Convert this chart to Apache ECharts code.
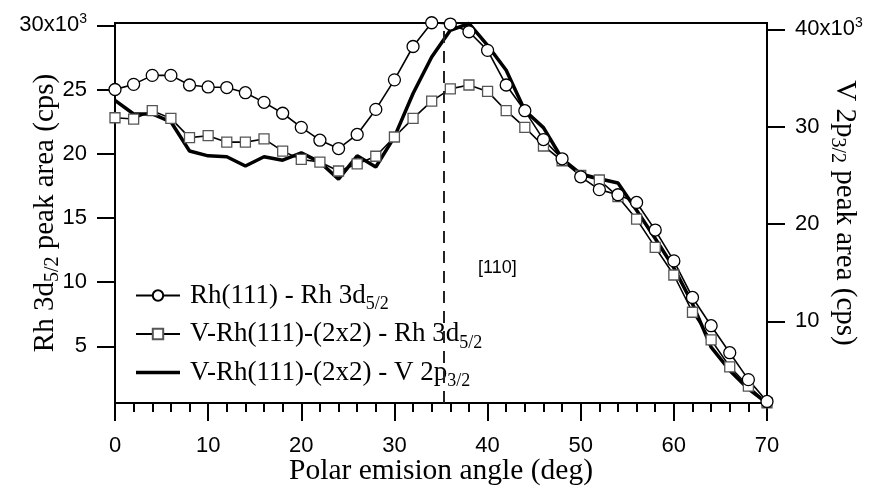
<!DOCTYPE html>
<html><head><meta charset="utf-8">
<script src="https://cdn.jsdelivr.net/npm/echarts@6/dist/echarts.min.js"></script>
<style>html,body{margin:0;padding:0;background:#fff}#c{width:873px;height:486px}</style>
</head><body><div id="c"></div>
<script>
const angles = [0,2,4,6,8,10,12,14,16,18,20,22,24,26,28,30,32,34,36,38,40,42,44,46,48,50,52,54,56,58,60,62,64,66,68,70];
// Rh(111) - Rh 3d5/2 (cps, left axis)
const rh111 = [25000,25400,26100,26100,25350,25200,25150,24750,24000,23150,22050,21050,20400,21500,23450,25750,28350,30200,30100,29500,28050,25350,23350,21100,19600,18200,17200,16800,16200,14050,11650,8800,6600,4500,2400,700];
// V-Rh(111)-(2x2) - Rh 3d5/2 (cps, left axis)
const vrhRh = [22800,22700,23350,22750,21250,21400,20900,20900,21150,20200,19550,19350,18650,19200,19800,21300,22750,24100,25050,25350,24850,23350,22050,20600,19450,18300,17950,16650,14900,12700,10550,7650,5500,3400,1900,600];
// V-Rh(111)-(2x2) - V 2p3/2 (cps, right axis)
const vrhV = [32700,31300,31300,30500,27500,27000,26900,25950,26900,26550,27300,26350,24600,27000,25850,28950,33400,37150,39900,40600,38350,35800,31650,29900,26700,25150,24650,24200,21400,18500,15500,11800,7350,4950,3050,1600];
const leftTicks = [5000,10000,15000,20000,25000,30000];
const rightTicks = [10000,20000,30000,40000];
const markerAngle = 35.3;
const markerText = '[110]';
const names = ['Rh(111) - Rh 3d5/2','V-Rh(111)-(2x2) - Rh 3d5/2','V-Rh(111)-(2x2) - V 2p3/2'];
const legendRich = {
  'Rh(111) - Rh 3d5/2': '{t|Rh(111) - Rh 3d}{s|5/2}',
  'V-Rh(111)-(2x2) - Rh 3d5/2': '{t|V-Rh(111)-(2x2) - Rh 3d}{s|5/2}',
  'V-Rh(111)-(2x2) - V 2p3/2': '{t|V-Rh(111)-(2x2) - V 2p}{s|3/2}'
};
const SANS = '"Liberation Sans", Arial, sans-serif';
const SERIF = '"Liberation Serif", "Times New Roman", serif';

const chart = echarts.init(document.getElementById('c'), null, {renderer: 'canvas'});
const supRich = {
  a: {fontSize: 22, fontFamily: SANS, color: '#000', lineHeight: 26},
  sup: {fontSize: 14, fontFamily: SANS, color: '#000', lineHeight: 14, verticalAlign: 'top'}
};
const nameRich = {
  a: {fontSize: 29, fontFamily: SERIF, color: '#000', lineHeight: 36},
  s: {fontSize: 20, fontFamily: SERIF, color: '#000', lineHeight: 19, verticalAlign: 'bottom'}
};
chart.setOption({
  animation: false,
  backgroundColor: '#fff',
  grid: {left: 115, right: 106, top: 23, bottom: 83, containLabel: false, outerBoundsMode: 'none',
    show: true, borderColor: '#000', borderWidth: 2, backgroundColor: 'transparent'},
  xAxis: {
    type: 'value', min: 0, max: 70, interval: 10,
    name: 'Polar emision angle (deg)', nameLocation: 'middle', nameGap: 53, nameMoveOverlap: false,
    nameTextStyle: {fontFamily: SERIF, fontSize: 29.5, color: '#000'},
    axisLine: {show: true, lineStyle: {color: '#000', width: 2}},
    axisTick: {show: true, inside: false, length: 18, lineStyle: {color: '#000', width: 2}},
    minorTick: {show: true, splitNumber: 5, length: 9, lineStyle: {color: '#000', width: 2}},
    axisLabel: {fontFamily: SANS, fontSize: 22, color: '#000', margin: 32},
    splitLine: {show: false}
  },
  yAxis: [{
    type: 'value', position: 'left', min: 580, max: 30180,
    name: '{a|Rh 3d}{s|5/2}{a| peak area (cps)}', nameLocation: 'middle', nameGap: 52, nameMoveOverlap: false,
    nameTextStyle: {rich: nameRich},
    axisLine: {show: true, lineStyle: {color: '#000', width: 2}},
    axisTick: {show: true, length: 18, customValues: leftTicks, lineStyle: {color: '#000', width: 2}},
    axisLabel: {customValues: leftTicks, margin: 28, rich: supRich,
      formatter: v => v === 30000 ? '{a|30x10}{sup|3}' : '{a|' + (v/1000) + '}'},
    splitLine: {show: false}
  }, {
    type: 'value', position: 'right', min: 1600, max: 40650,
    name: '{a|V 2p}{s|3/2}{a| peak area (cps)}', nameLocation: 'middle', nameGap: 60, nameRotate: -90, nameMoveOverlap: false,
    nameTextStyle: {rich: nameRich},
    axisLine: {show: true, lineStyle: {color: '#000', width: 2}},
    axisTick: {show: true, length: 18, customValues: rightTicks, lineStyle: {color: '#000', width: 2}},
    axisLabel: {customValues: rightTicks, margin: 28, rich: supRich,
      formatter: v => v === 40000 ? '{a|40x10}{sup|3}' : '{a|' + (v/1000) + '}'},
    splitLine: {show: false}
  }],
  legend: {
    orient: 'vertical', left: 135, top: 282, padding: 0, itemGap: 7, itemWidth: 44, itemHeight: 13,
    symbolKeepAspect: true,
    data: [
      {name: names[0]},
      {name: names[1]},
      {name: names[2], icon: 'path://M0 0H44V3.6H0Z', itemStyle: {color: '#000'}}
    ],
    formatter: n => '{g|}' + legendRich[n],
    textStyle: {rich: {
      g: {width: 5},
      t: {fontSize: 27, fontFamily: SERIF, color: '#000', lineHeight: 36},
      s: {fontSize: 18, fontFamily: SERIF, color: '#000', lineHeight: 18, verticalAlign: 'bottom'}
    }}
  },
  graphic: [{
    type: 'text', left: 478, top: 259,
    style: {text: markerText, fontSize: 18, fontFamily: SANS, fill: '#000'}
  }],
  series: [{
    name: names[2], type: 'line', yAxisIndex: 1, clip: false,
    data: angles.map((a, i) => [a, vrhV[i]]),
    showSymbol: false, symbol: 'none',
    lineStyle: {color: '#000', width: 3.5},
    itemStyle: {color: '#000'},
    markLine: {
      silent: true, symbol: ['none', 'none'], label: {show: false},
      lineStyle: {color: '#222', width: 2, type: [12, 8]},
      data: [{xAxis: markerAngle}]
    }
  }, {
    name: names[1], type: 'line', yAxisIndex: 0, clip: false,
    data: angles.map((a, i) => [a, vrhRh[i]]),
    symbol: 'rect', symbolSize: 10,
    lineStyle: {color: '#000', width: 1.6},
    itemStyle: {color: '#fff', borderColor: '#555', borderWidth: 1.3}
  }, {
    name: names[0], type: 'line', yAxisIndex: 0, clip: false,
    data: angles.map((a, i) => [a, rh111[i]]),
    symbol: 'circle', symbolSize: 12,
    lineStyle: {color: '#000', width: 1.6},
    itemStyle: {color: '#fff', borderColor: '#000', borderWidth: 1.3}
  }]
});
</script>
</body></html>
